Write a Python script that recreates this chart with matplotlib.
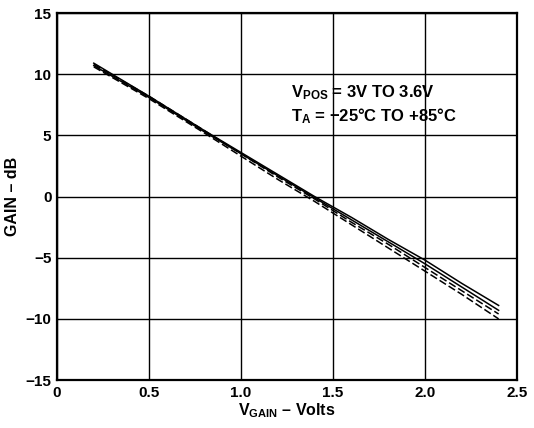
import matplotlib
matplotlib.use('Agg')
import matplotlib.pyplot as plt

plt.rcParams['font.family'] = ['Liberation Sans', 'DejaVu Sans']
plt.rcParams['font.weight'] = 'bold'
plt.rcParams['mathtext.fontset'] = 'custom'
plt.rcParams['mathtext.rm'] = 'Liberation Sans:bold'
plt.rcParams['mathtext.bf'] = 'Liberation Sans:bold'
plt.rcParams['mathtext.it'] = 'Liberation Sans:bold'
plt.rcParams['mathtext.default'] = 'bf'

# gain vs control voltage, four supply/temperature corners
v_gain = [0.2, 0.5, 0.8, 1.0, 1.2, 1.4, 1.6, 1.8, 2.0, 2.2, 2.4]
gain_a = [10.9, 8.2, 5.4, 3.6, 1.8, 0.0, -1.7, -3.5, -5.2, -7.1, -8.9]
gain_b = [10.7, 8.1, 5.3, 3.5, 1.7, -0.1, -1.9, -3.7, -5.5, -7.4, -9.3]
gain_c = [10.8, 8.2, 5.4, 3.5, 1.6, -0.2, -2.1, -3.9, -5.8, -7.7, -9.6]
gain_d = [10.6, 8.0, 5.2, 3.3, 1.4, -0.4, -2.3, -4.2, -6.1, -8.0, -10.0]

x_ticks = [0, 0.5, 1.0, 1.5, 2.0, 2.5]
x_tick_labels = ['0', '0.5', '1.0', '1.5', '2.0', '2.5']
y_ticks = [-15, -10, -5, 0, 5, 10, 15]
y_tick_labels = ['\u221215', '\u221210', '\u22125', '0', '5', '10', '15']

fig = plt.figure(figsize=(5.34, 4.28), dpi=100)
ax = fig.add_axes([0.1067, 0.112, 0.8615, 0.8576])

ax.plot(v_gain, gain_a, '-', color='black', linewidth=1.1)
ax.plot(v_gain, gain_b, '-', color='black', linewidth=1.1)
ax.plot(v_gain, gain_c, '--', color='black', linewidth=1.1, dashes=(5, 2))
ax.plot(v_gain, gain_d, '--', color='black', linewidth=1.1, dashes=(5, 2))

ax.set_xlim(0, 2.5)
ax.set_ylim(-15, 15)
ax.set_xticks(x_ticks)
ax.set_xticklabels(x_tick_labels)
ax.set_yticks(y_ticks)
ax.set_yticklabels(y_tick_labels)
ax.tick_params(length=0, labelsize=11, pad=4)
for lbl in ax.get_xticklabels() + ax.get_yticklabels():
    lbl.set_fontweight('bold')

ax.grid(True, color='black', linewidth=1.0)
for s in ax.spines.values():
    s.set_linewidth(1.6)

ax.set_xlabel('V$_{GAIN}$ \u2013 Volts', fontsize=11.5, fontweight='bold', labelpad=1)
ax.set_ylabel('GAIN \u2013 dB', fontsize=11.5, fontweight='bold', labelpad=4)

ax.text(1.27, 8.5, 'V$_{POS}$ = 3V TO 3.6V', fontsize=12, fontweight='bold', va='center')
ax.text(1.27, 6.6, 'T$_{A}$ = \u221225\u00b0C TO +85\u00b0C', fontsize=12, fontweight='bold', va='center')

fig.savefig('out.png', dpi=100)
